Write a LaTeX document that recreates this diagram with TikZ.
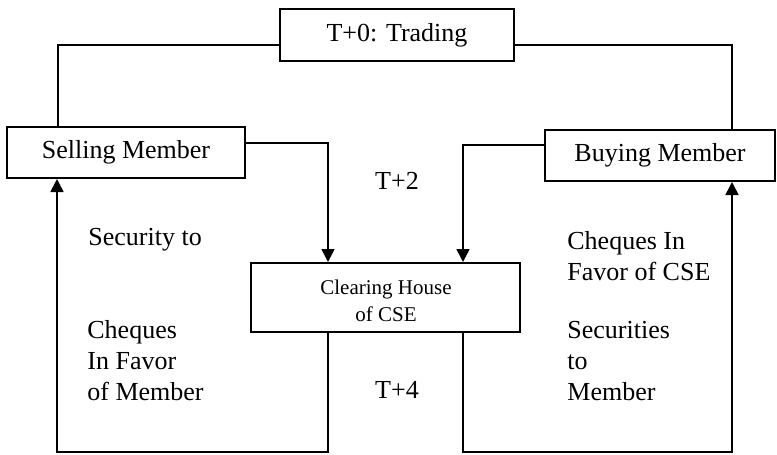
\documentclass[tikz,border=0pt]{standalone}
\usepackage{fontspec}
\setmainfont{Liberation Serif}
\usetikzlibrary{arrows.meta}

\begin{document}
\begin{tikzpicture}[x=0.5pt,y=-0.5pt,
  box/.style={draw,line width=1pt,inner sep=0pt,font=\fontsize{13}{15}\selectfont},
  flow/.style={line width=0.8pt},
  arr/.style={flow,-{Triangle[length=6.5pt,width=6.5pt]}},
  lbl/.style={font=\fontsize{13}{15.5}\selectfont,align=left,anchor=west,inner sep=0pt}]
  \useasboundingbox (0,0) rectangle (777,455);

  % boxes
  \node[box,minimum width=117pt,minimum height=26pt] (trade) at (397,35) {T+0: Trading};
  \node[box,minimum width=119pt,minimum height=25.5pt] (sell) at (126,152.5) {Selling Member};
  \node[box,minimum width=115pt,minimum height=25.5pt] (buy) at (660,155.5) {Buying Member};
  \node[box,minimum width=134.5pt,minimum height=34.5pt] (clear) at (385.5,297.5) {};
  \node[font=\fontsize{10.5}{13.5}\selectfont,align=center,inner sep=0pt] (clearlbl) at (386,301) {Clearing House\\of CSE};

  % corners
  \coordinate (tl) at (58,45);
  \coordinate (tr) at (732,45);
  \coordinate (sl) at (328,143);
  \coordinate (bl) at (463,145);
  \coordinate (dl) at (57,452);
  \coordinate (dr) at (732,452);

  % T+0
  \draw[flow] (trade.west |- tl) -- (tl) -- (tl |- sell.north);
  \draw[flow] (trade.east |- tr) -- (tr) -- (tr |- buy.north);

  % T+2
  \draw[arr] (sell.east |- sl) -- (sl) -- (sl |- clear.north);
  \draw[arr] (buy.west |- bl) -- (bl) -- (bl |- clear.north);

  % T+4
  \draw[arr] (sl |- clear.south) -- (sl |- dl) -- (dl) -- (dl |- sell.south);
  \draw[arr] (bl |- clear.south) -- (bl |- dr) -- (dr) -- (dr |- buy.south);

  % labels
  \node[lbl,anchor=center] (t2) at (397,181) {T+2};
  \node[lbl,anchor=center] (t4) at (397,390) {T+4};
  \node[lbl] (secto) at (88,240) {Security to};
  \node[lbl] (chqcse) at (567,256) {Cheques In\\Favor of CSE};
  \node[lbl] (chqmem) at (87,361) {Cheques\\In Favor\\of Member};
  \node[lbl] (secmem) at (567,361) {Securities\\to\\Member};
\end{tikzpicture}
\end{document}
